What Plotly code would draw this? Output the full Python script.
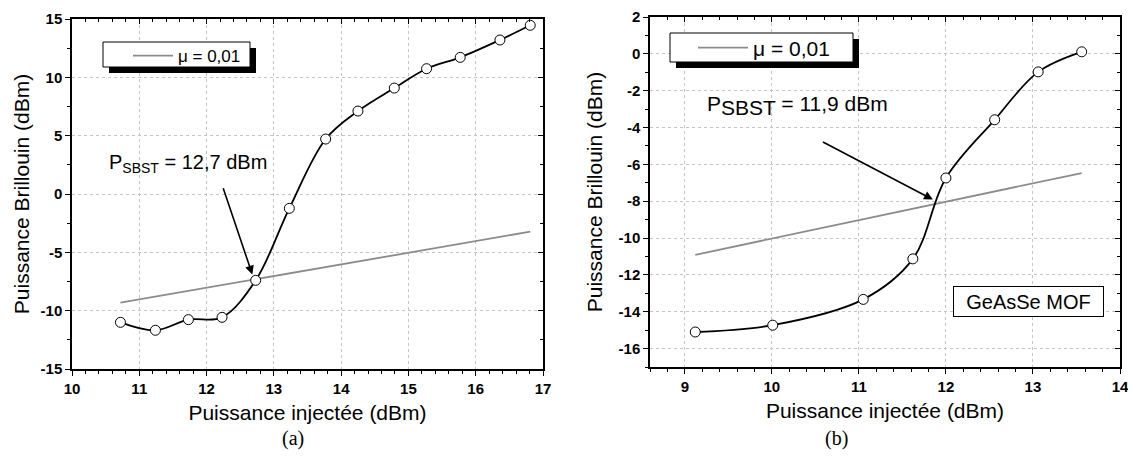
import plotly.graph_objects as go

# ---------------- data ----------------
# panel (a)
x_a = [10.72, 11.24, 11.73, 12.23, 12.73, 13.23, 13.77, 14.25, 14.79, 15.27, 15.77, 16.36, 16.81]
y_a = [-11.0, -11.68, -10.77, -10.57, -7.4, -1.23, 4.71, 7.11, 9.08, 10.74, 11.71, 13.2, 14.46]
x_lin_a = [10.72, 16.81]
y_lin_a = [-9.31, -3.23]
# panel (b)
x_b = [9.12, 10.01, 11.05, 11.62, 12.0, 12.56, 13.06, 13.56]
y_b = [-15.1, -14.73, -13.33, -11.13, -6.74, -3.58, -0.98, 0.11]
x_lin_b = [9.12, 13.56]
y_lin_b = [-10.91, -6.47]

legend_name = "μ = 0,01"
x_title = "Puissance injectée (dBm)"
y_title = "Puissance Brillouin (dBm)"

xt_a = [10, 11, 12, 13, 14, 15, 16, 17]
xl_a = ["10", "11", "12", "13", "14", "15", "16", "17"]
yt_a = [-15, -10, -5, 0, 5, 10, 15]
yl_a = ["-15", "-10", "-5", "0", "5", "10", "15"]
xt_b = [9, 10, 11, 12, 13, 14]
xl_b = ["9", "10", "11", "12", "13", "14"]
yt_b = [-16, -14, -12, -10, -8, -6, -4, -2, 0, 2]
yl_b = ["-16", "-14", "-12", "-10", "-8", "-6", "-4", "-2", "0", "2"]

# annotations (data coords)
arrow_a = dict(head=(12.68, -6.9), tail=(12.24, 0.63), text_pos=(11.73, 2.6))
arrow_b = dict(head=(11.85, -7.91), tail=(10.57, -4.74), text_pos=(10.30, -2.78))
label_a = "P<sub>SBST</sub> = 12,7 dBm"
label_b = "P<sub><span style='font-size:21px'>SBST</span></sub> = 11,9 dBm"
box_b_text = "GeAsSe MOF"
box_b_pos = (12.95, -13.45)

# ---------------- layout helpers ----------------
# page has an 8px body margin: the figure is sized so that the page fits the window
OFF = 8
WF, HF = 1120, 450
def px(v):  # screen x -> paper
    return (v - OFF) / WF
def py(v):  # screen y -> paper
    return 1 - (v - OFF) / HF

SANS = "Liberation Sans, Arial, sans-serif"
SERIF = "Liberation Serif, Times New Roman, serif"
GRAY = "#8c8c8c"

fig = go.Figure()

# panel (a)
fig.add_trace(go.Scatter(x=x_lin_a, y=y_lin_a, mode="lines", name=legend_name,
                         line=dict(color=GRAY, width=1.8), xaxis="x", yaxis="y",
                         legend="legend"))
fig.add_trace(go.Scatter(x=x_a, y=y_a, mode="lines+markers", showlegend=False,
                         line=dict(color="black", width=1.8, shape="spline", smoothing=1.0),
                         marker=dict(symbol="circle", size=10, color="white",
                                     line=dict(color="black", width=1)),
                         xaxis="x", yaxis="y"))
# panel (b)
fig.add_trace(go.Scatter(x=x_lin_b, y=y_lin_b, mode="lines", name=legend_name,
                         line=dict(color=GRAY, width=1.8), xaxis="x2", yaxis="y2",
                         legend="legend2"))
fig.add_trace(go.Scatter(x=x_b, y=y_b, mode="lines+markers", showlegend=False,
                         line=dict(color="black", width=1.8, shape="spline", smoothing=1.0),
                         marker=dict(symbol="circle", size=10, color="white",
                                     line=dict(color="black", width=1)),
                         xaxis="x2", yaxis="y2"))
# invisible traces to realise the mirrored (inside-tick) top/right axes
fig.add_trace(go.Scatter(x=x_a, y=y_a, mode="markers", marker=dict(opacity=0),
                         hoverinfo="skip", showlegend=False, xaxis="x3", yaxis="y3"))
fig.add_trace(go.Scatter(x=x_b, y=y_b, mode="markers", marker=dict(opacity=0),
                         hoverinfo="skip", showlegend=False, xaxis="x4", yaxis="y4"))

tickfont = dict(family=SANS, size=15, color="black", weight="bold")
titlefont = dict(family=SANS, size=21, color="black")

def main_axis(domain, rng, tv, tt, minor_dtick, tick0, anchor):
    return dict(domain=domain, range=rng, anchor=anchor, tickmode="array",
                tickvals=tv, ticktext=tt, ticks="outside", ticklen=5, tickwidth=1.3,
                tickcolor="black", showline=True, linecolor="black", linewidth=1.5,
                mirror=True, showgrid=True, gridcolor="#c4c4c4", griddash="dot",
                gridwidth=1, zeroline=False, tickfont=tickfont,
                ticklabeloverflow="allow",
                minor=dict(tickmode="linear", tick0=tick0, dtick=minor_dtick,
                           ticks="outside", ticklen=3, tickwidth=1.1, tickcolor="black",
                           showgrid=False),
                automargin=False, fixedrange=True)

def mirror_axis(overlay, side, anchor, rng, tv, minor_dtick, tick0):
    return dict(overlaying=overlay, side=side, anchor=anchor, range=rng,
                tickmode="array", tickvals=tv, ticks="inside", ticklen=5,
                tickwidth=1.3, tickcolor="black", showticklabels=False,
                showline=False, showgrid=False, zeroline=False,
                minor=dict(tickmode="linear", tick0=tick0, dtick=minor_dtick,
                           ticks="inside", ticklen=3, tickwidth=1.1,
                           tickcolor="black", showgrid=False),
                automargin=False, fixedrange=True)

xa = main_axis([px(72), px(543)], [10, 17], xt_a, xl_a, 0.2, 10, "y")
ya = main_axis([py(369), py(19)], [-15, 15], yt_a, yl_a, 2.5, -15, "x")
xb = main_axis([px(650), px(1120)], [8.6, 14], xt_b, xl_b, 0.2, 9, "y2")
yb = main_axis([py(367), py(17)], [-17, 2], yt_b, yl_b, 1, -17, "x2")
xa["title"] = dict(text=x_title, font=titlefont, standoff=10)
ya["title"] = dict(text=y_title, font=titlefont, standoff=5)
xb["title"] = dict(text=x_title, font=titlefont, standoff=10)
yb["title"] = dict(text=y_title, font=titlefont, standoff=10)

fig.update_layout(
    width=WF, height=HF,
    margin=dict(l=0, r=0, t=0, b=0),
    paper_bgcolor="white", plot_bgcolor="white",
    font=dict(family=SANS, color="black"),
    xaxis=xa, yaxis=ya, xaxis2=xb, yaxis2=yb,
    xaxis3=mirror_axis("x", "top", "y", [10, 17], xt_a, 0.2, 10),
    yaxis3=mirror_axis("y", "right", "x", [-15, 15], yt_a, 2.5, -15),
    xaxis4=mirror_axis("x2", "top", "y2", [8.6, 14], xt_b, 0.2, 9),
    yaxis4=mirror_axis("y2", "right", "x2", [-17, 2], yt_b, 1, -17),
    legend=dict(x=px(128), y=py(56), xanchor="left", yanchor="middle",
                bgcolor="rgba(0,0,0,0)", borderwidth=0, itemwidth=40,
                font=dict(family=SANS, size=17, color="black")),
    legend2=dict(x=px(693), y=py(48), xanchor="left", yanchor="middle",
                 bgcolor="rgba(0,0,0,0)", borderwidth=0, itemwidth=50,
                 font=dict(family=SANS, size=21, color="black")),
    showlegend=True,
)

# legend frames with drop shadows (Origin style)
shapes = []
for (x0, y0, x1, y1, off) in [(103, 42, 250, 67, 6), (670, 33, 853, 62, 6)]:
    shapes.append(dict(type="rect", xref="paper", yref="paper",
                       x0=px(x0 + off), x1=px(x1 + off), y0=py(y1 + off), y1=py(y0 + off),
                       fillcolor="black", line=dict(width=0), layer="above"))
    shapes.append(dict(type="rect", xref="paper", yref="paper",
                       x0=px(x0), x1=px(x1), y0=py(y1), y1=py(y0),
                       fillcolor="white", line=dict(color="black", width=1), layer="above"))
fig.update_layout(shapes=shapes)

ann = []
for arr, xr, yr, label, fs in [(arrow_a, "x", "y", label_a, 20), (arrow_b, "x2", "y2", label_b, 21)]:
    ann.append(dict(x=arr["head"][0], y=arr["head"][1], ax=arr["tail"][0], ay=arr["tail"][1],
                    xref=xr, yref=yr, axref=xr, ayref=yr, showarrow=True, text="",
                    arrowhead=2, arrowsize=1.1, arrowwidth=1.6, arrowcolor="black"))
    ann.append(dict(x=arr["text_pos"][0], y=arr["text_pos"][1], xref=xr, yref=yr,
                    text=label, showarrow=False, xanchor="center", yanchor="middle",
                    font=dict(family=SANS, size=fs, color="black")))
ann.append(dict(x=box_b_pos[0], y=box_b_pos[1], xref="x2", yref="y2", text=box_b_text,
                showarrow=False, font=dict(family=SANS, size=20, color="black"),
                bgcolor="white", bordercolor="black", borderwidth=1, borderpad=2,
                width=145, height=25))
ann.append(dict(x=px(280), y=py(452), xref="paper", yref="paper", text="(a)",
                showarrow=False, font=dict(family=SERIF, size=20, color="black")))
ann.append(dict(x=px(850), y=py(452), xref="paper", yref="paper", text="(b)",
                showarrow=False, font=dict(family=SERIF, size=20, color="black")))
fig.update_layout(annotations=ann)

fig.write_html("out.html")
